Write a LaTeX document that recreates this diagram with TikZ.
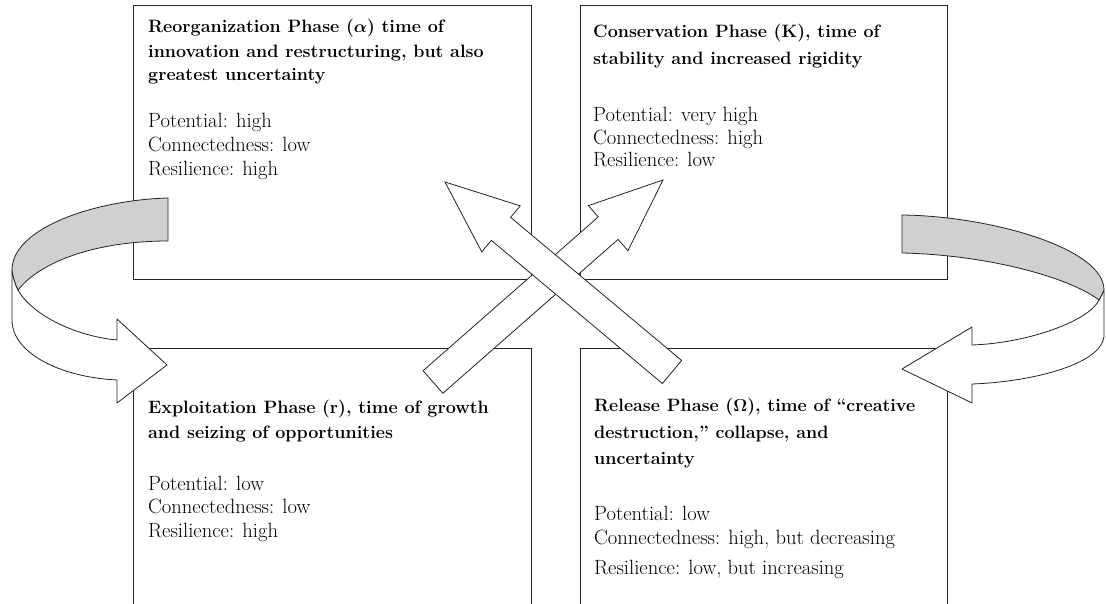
\documentclass[tikz,border=0pt]{standalone}
\usetikzlibrary{calc}
\definecolor{bandgray}{RGB}{208,208,208}
\definecolor{linec}{RGB}{35,35,35}
\tikzset{
  phasebox/.style={draw=linec, line width=0.9pt, fill=white, rectangle, inner sep=0pt, anchor=north west},
  titletext/.style={anchor=base west, inner sep=0pt, font=\bfseries\boldmath\fontsize{17.9}{21}\selectfont},
  proptext/.style={anchor=base west, inner sep=0pt, font=\fontsize{20.6}{24}\selectfont},
  ribbonwhite/.style={draw=linec, fill=white, line width=0.8pt, line join=round},
  ribbongray/.style={draw=linec, fill=bandgray, line width=0.8pt, line join=round},
  arrowbody/.style={draw=linec, fill=white, line width=0.8pt, line join=miter},
}
% block arrow from #1 (tail centre) to #2 (tip)
\newcommand{\fatarrow}[2]{%
  \coordinate (hb) at ($(#2)!73pt!(#1)$);
  \draw[arrowbody] ($(#1)!15pt!90:(#2)$) -- ($(hb)!15pt!-90:(#1)$) -- ($(hb)!30pt!-90:(#1)$)
     -- (#2) -- ($(hb)!30pt!90:(#1)$) -- ($(hb)!15pt!90:(#1)$) -- ($(#1)!15pt!-90:(#2)$) -- cycle;
}
\begin{document}
\begin{tikzpicture}[x=1pt,y=-1pt]
\useasboundingbox (0,0) rectangle (1106,604);
\clip (0,0) rectangle (1106,604);
\fill[white] (0,0) rectangle (1106,604);

% phase boxes
\node[phasebox, minimum width=398pt, minimum height=274pt] (reorg) at (133,5) {};
\node[phasebox, minimum width=367pt, minimum height=274pt] (cons) at (580,5) {};
\node[phasebox, minimum width=398pt, minimum height=280pt] (expl) at (133,348) {};
\node[phasebox, minimum width=367pt, minimum height=280pt] (rel) at (580,348) {};

% texts: reorganization
\node[titletext] (t1a) at (148,33) {Reorganization Phase ($\alpha$) time of};
\node[titletext] (t1b) at (148,58) {innovation and restructuring, but also};
\node[titletext] (t1c) at (148,81) {greatest uncertainty};
\node[proptext] (p1a) at (148,128) {Potential: high};
\node[proptext] (p1b) at (148,152) {Connectedness: low};
\node[proptext] (p1c) at (148,176) {Resilience: high};

% conservation
\node[titletext] (t2a) at (593,38) {Conservation Phase (K), time of};
\node[titletext] (t2b) at (593,65) {stability and increased rigidity};
\node[proptext] (p2a) at (593,122) {Potential: very high};
\node[proptext] (p2b) at (593,145) {Connectedness: high};
\node[proptext] (p2c) at (593,167) {Resilience: low};

% exploitation
\node[titletext] (t3a) at (148,413) {Exploitation Phase (r), time of growth};
\node[titletext] (t3b) at (148,438) {and seizing of opportunities};
\node[proptext] (p3a) at (148,490) {Potential: low};
\node[proptext] (p3b) at (148,513) {Connectedness: low};
\node[proptext] (p3c) at (148,537) {Resilience: high};

% release
\node[titletext] (t4a) at (594,411) {Release Phase ($\Omega$), time of ``creative};
\node[titletext] (t4b) at (594,438) {destruction,'' collapse, and};
\node[titletext] (t4c) at (594,464) {uncertainty};
\node[proptext] (p4a) at (594,520) {Potential: low};
\node[proptext] (p4b) at (594,544) {Connectedness: high, but decreasing};
\node[proptext] (p4c) at (594,574) {Resilience: low, but increasing};

% left curved ribbon arrow (reorganization -> exploitation)
\draw[ribbonwhite] (12,270) -- (12,320) .. controls (12,352) and (58,377) .. (117,380)
  -- (117,403) -- (167,365) -- (117,319) -- (117,340)
  .. controls (75,336) and (32,315) .. (18,290)
  .. controls (15,284) and (13,277) .. (12,270) -- cycle;
\draw[ribbongray] (168,198) .. controls (95,200) and (12,228) .. (12,270)
  .. controls (13,277) and (15,284) .. (18,290)
  .. controls (40,262) and (95,241) .. (168,241) -- cycle;

% right curved ribbon arrow (conservation -> release)
\draw[ribbonwhite] (1104,290) -- (1104,337) .. controls (1100,365) and (1030,382) .. (972,384)
  -- (972,403) -- (902,369) -- (972,327) -- (972,345)
  .. controls (1030,343) and (1090,320) .. (1099,300)
  .. controls (1101,296) and (1103,293) .. (1104,290) -- cycle;
\draw[ribbongray] (902,215) .. controls (990,216) and (1104,248) .. (1104,290)
  .. controls (1103,293) and (1101,296) .. (1099,300)
  .. controls (1070,278) and (990,255) .. (902,253) -- cycle;

% central crossing arrows
\coordinate (a1tail) at (433,382);
\coordinate (a1tip) at (663,180);
\coordinate (a2tail) at (672,372);
\coordinate (a2tip) at (445,182);
\fatarrow{a1tail}{a1tip}
\fatarrow{a2tail}{a2tip}
\end{tikzpicture}
\end{document}
